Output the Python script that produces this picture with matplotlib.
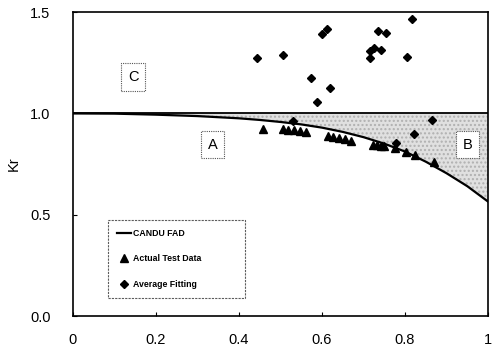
import matplotlib
matplotlib.use('Agg')
import matplotlib.pyplot as plt
import numpy as np

# FAD curve
fad_lr = [0.0, 0.1, 0.2, 0.3, 0.4, 0.45, 0.5, 0.55, 0.6, 0.65, 0.7, 0.75,
          0.8, 0.85, 0.9, 0.95, 1.0]
fad_kr = [1.0, 0.999, 0.994, 0.987, 0.976, 0.968, 0.958, 0.946, 0.930, 0.909,
          0.883, 0.851, 0.812, 0.762, 0.705, 0.641, 0.565]

# Actual test data (triangles)
test_lr = [0.459, 0.505, 0.519, 0.533, 0.547, 0.561, 0.615, 0.627, 0.640, 0.655,
           0.670, 0.722, 0.732, 0.742, 0.750, 0.776, 0.803, 0.824, 0.869]
test_kr = [0.925, 0.922, 0.919, 0.918, 0.915, 0.906, 0.889, 0.884, 0.878, 0.872,
           0.866, 0.842, 0.846, 0.840, 0.838, 0.828, 0.812, 0.796, 0.762]

# Average fitting (diamonds)
fit_lr = [0.444, 0.505, 0.573, 0.589, 0.599, 0.612, 0.619, 0.716, 0.716, 0.725,
          0.742, 0.736, 0.754, 0.804, 0.817, 0.866, 0.822, 0.531, 0.778]
fit_kr = [1.276, 1.286, 1.174, 1.057, 1.391, 1.416, 1.126, 1.274, 1.307, 1.324,
          1.312, 1.406, 1.395, 1.279, 1.464, 0.967, 0.898, 0.963, 0.855]

xticks = [0, 0.2, 0.4, 0.6, 0.8, 1]
xtick_labels = ['0', '0.2', '0.4', '0.6', '0.8', '1']
yticks = [0.0, 0.5, 1.0, 1.5]
ytick_labels = ['0.0', '0.5', '1.0', '1.5']

plt.rcParams['font.family'] = ['Liberation Sans', 'DejaVu Sans']

fig = plt.figure(figsize=(4.92, 3.56), dpi=100)
ax = fig.add_axes([0.148, 0.112, 0.844, 0.854])

# shaded zone between FAD curve and Kr = 1
ax.fill_between(fad_lr, fad_kr, 1.0, facecolor='#e0e0e0', hatch='....',
                edgecolor='#b0b0b0', linewidth=0)

ax.axhline(1.0, color='black', lw=1.3)
ax.plot(fad_lr, fad_kr, color='black', lw=1.6, label='CANDU FAD')
ax.plot(test_lr, test_kr, '^', color='black', ms=5.5, ls='none',
        label='Actual Test Data')
ax.plot(fit_lr, fit_kr, 'D', color='black', ms=3.6, ls='none',
        label='Average Fitting')

# region labels
box = dict(boxstyle='square,pad=0.45', facecolor='white', edgecolor='#555555',
           linestyle=(0, (1, 1)), linewidth=0.8)
ax.text(0.145, 1.18, 'C', ha='center', va='center', fontsize=10.5, bbox=box)
ax.text(0.337, 0.845, 'A', ha='center', va='center', fontsize=10.5, bbox=box)
ax.text(0.95, 0.845, 'B', ha='center', va='center', fontsize=10.5, bbox=box)

ax.set_xlim(0, 1)
ax.set_ylim(0, 1.5)
ax.set_xticks(xticks)
ax.set_xticklabels(xtick_labels)
ax.set_yticks(yticks)
ax.set_yticklabels(ytick_labels)
ax.tick_params(direction='in', length=3, labelsize=10.5)
ax.tick_params(axis='x', pad=12)
ax.tick_params(axis='y', pad=16)
ax.set_ylabel('Kr', fontsize=10.5)
ax.yaxis.set_label_coords(-0.125, 0.5)

for s in ax.spines.values():
    s.set_linewidth(1.2)

leg = ax.legend(loc='lower left', bbox_to_anchor=(0.075, 0.046, 0.35, 0.285),
                mode='expand', labelspacing=1.9, handlelength=1.6,
                handletextpad=0.2, borderpad=1.0, fancybox=False,
                prop={'weight': 'bold', 'size': 6.3})
leg.get_frame().set_edgecolor('#333333')
leg.get_frame().set_linestyle((0, (2, 1)))
leg.get_frame().set_linewidth(0.8)

fig.savefig('out.png', dpi=100)
